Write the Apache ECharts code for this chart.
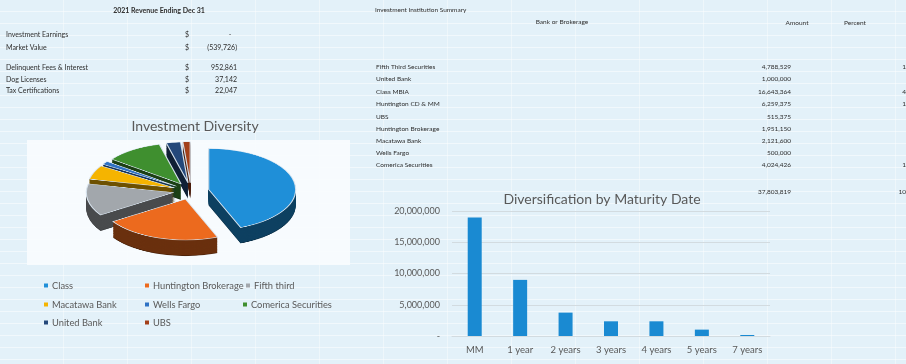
<!DOCTYPE html>
<html><head><meta charset="utf-8">
<script src="https://cdn.jsdelivr.net/npm/echarts@6/dist/echarts.min.js"></script>
<style>
html,body{margin:0;padding:0;}
body{width:906px;height:364px;overflow:hidden;position:relative;
background-color:#e3f1f9;
background-image:repeating-linear-gradient(to bottom,transparent 0,transparent 11px,rgba(255,255,255,0.5) 11px,rgba(255,255,255,0.5) 12px),
repeating-linear-gradient(to right,transparent 0,transparent 63px,rgba(255,255,255,0.4) 63px,rgba(255,255,255,0.4) 64px);}
#main{position:absolute;left:0;top:0;width:906px;height:364px;}
#pie{position:absolute;left:61px;top:61px;width:260px;height:300px;transform:scaleY(0.47);transform-origin:130px 130px;}
</style></head><body>
<div id="main"></div><div id="pie"></div>
<script>
// ---- data ----
const revenueTitle = '2021 Revenue Ending Dec 31';
const revenueLabels = ['Investment Earnings', 'Market Value', 'Delinquent Fees & Interest', 'Dog Licenses', 'Tax Certifications'];
const revenueValues = [null, -539726, 952861, 37142, 22047];

const institutionTitle = 'Investment Institution Summary';
const institutionHeaders = ['Bank or Brokerage', 'Amount', 'Percent'];
const institutionNames = ['Fifth Third Securities', 'United Bank', 'Class MBIA', 'Huntington CD & MM', 'UBS', 'Huntington Brokerage', 'Macatawa Bank', 'Wells Fargo', 'Comerica Securities'];
const institutionAmounts = [4788529, 1000000, 16643364, 6259375, 515375, 1951150, 2121600, 500000, 4024426];
const institutionTotal = 37803819;

const pieTitle = 'Investment Diversity';
const pieNames = ['Class', 'Huntington Brokerage', 'Fifth third', 'Macatawa Bank', 'Wells Fargo', 'Comerica Securities', 'United Bank', 'UBS'];
const pieValues = [16643364, 8210525, 4788529, 2121600, 500000, 4024426, 1000000, 515375];
const pieColors = ['#1f8fd8', '#ec6a1e', '#a2a7ac', '#f5b400', '#2f72c4', '#3f8f2f', '#24487a', '#a3401a'];

const barTitle = 'Diversification by Maturity Date';
const maturityCategories = ['MM', '1 year', '2 years', '3 years', '4 years', '5 years', '7 years'];
const maturityValues = [18950000, 8980000, 3740000, 2350000, 2350000, 1020000, 160000];
const yTicks = [0, 5000000, 10000000, 15000000, 20000000];

// ---- helpers ----
const FONT = 'Lato, "Open Sans", sans-serif';
const fmt = v => v.toLocaleString('en-US');
function txt(x, y, text, opts) {
  opts = opts || {};
  return { type: 'text', x: x, y: y, silent: true, z: 5,
    style: { text: text, fill: opts.fill || '#2e2e2e', font: (opts.weight || 'normal') + ' ' + (opts.size || 7) + 'px ' + FONT,
      align: opts.align || 'left', verticalAlign: 'middle', textAlign: opts.align || 'left', textVerticalAlign: 'middle' } };
}
function shade(hex, f) {
  const n = parseInt(hex.slice(1), 16);
  const r = Math.round(((n >> 16) & 255) * f), g = Math.round(((n >> 8) & 255) * f), b = Math.round((n & 255) * f);
  return 'rgb(' + r + ',' + g + ',' + b + ')';
}

// ---- graphic texts (tables) ----
const graphic = [];
graphic.push({ type: 'rect', shape: { x: 27, y: 140, width: 323, height: 125 }, style: { fill: 'rgba(248,252,254,0.9)' }, silent: true, z: 1 });
graphic.push(txt(159, 11, revenueTitle, { weight: 'bold', align: 'center', size: 7 }));
const revY = [35, 48, 68, 80, 91];
revenueLabels.forEach((l, i) => {
  graphic.push(txt(6, revY[i], l));
  graphic.push(txt(185, revY[i], '$'));
  const v = revenueValues[i];
  if (v === null) graphic.push(txt(230, revY[i], '-', { align: 'center' }));
  else graphic.push(txt(237, revY[i], v < 0 ? '(' + fmt(-v) + ')' : fmt(v), { align: 'right' }));
});
graphic.push(txt(375, 10, institutionTitle, { size: 6.5 }));
graphic.push(txt(562, 22, institutionHeaders[0], { size: 6.5, align: 'center' }));
graphic.push(txt(797, 23, institutionHeaders[1], { size: 6.5, align: 'center' }));
graphic.push(txt(855, 23, institutionHeaders[2], { size: 6.5, align: 'center' }));
const instY = [67, 79, 91.5, 104, 117, 128.5, 140.5, 152.5, 164.5];
institutionNames.forEach((n, i) => {
  graphic.push(txt(376, instY[i], n, { size: 6.5 }));
  graphic.push(txt(791, instY[i], fmt(institutionAmounts[i]), { size: 6.5, align: 'right' }));
  graphic.push(txt(924, instY[i], (institutionAmounts[i] / institutionTotal * 100).toFixed(2) + '%', { size: 6.5, align: 'right' }));
});
graphic.push(txt(791, 192, fmt(institutionTotal), { size: 6.5, align: 'right' }));
graphic.push(txt(924, 192, '100.00%', { size: 6.5, align: 'right' }));

// ---- legends for pie ----
const legendPos = [[44, 281], [145, 281], [246, 281], [44, 300], [145, 300], [243, 300], [44, 318], [145, 318]];
const legends = pieNames.map((n, i) => ({
  data: [n], left: legendPos[i][0], top: legendPos[i][1], icon: 'rect', itemWidth: 4, itemHeight: 4, itemGap: 0,
  padding: 0, selectedMode: false, textStyle: { fontSize: 9.3, color: '#595959', fontFamily: FONT, padding: [0, 0, 0, -1] }
}));

const main = echarts.init(document.getElementById('main'), null, { renderer: 'canvas' });
main.setOption({
  animation: false,
  backgroundColor: 'transparent',
  color: pieColors,
  title: [
    { text: pieTitle, left: 190, top: 114, textAlign: 'center', textStyle: { fontSize: 14, fontWeight: 'normal', color: '#595959', fontFamily: FONT } },
    { text: barTitle, left: 597, top: 187, textAlign: 'center', textStyle: { fontSize: 14, fontWeight: 'normal', color: '#595959', fontFamily: FONT } }
  ],
  legend: legends,
  graphic: graphic,
  grid: { left: 452, right: 136, top: 211, bottom: 28 },
  xAxis: { type: 'category', data: maturityCategories,
    axisLine: { lineStyle: { color: '#d2dbe0' } }, axisTick: { show: false },
    axisLabel: { fontSize: 9.5, color: '#595959', fontFamily: FONT, margin: 9 } },
  yAxis: { type: 'value', min: yTicks[0], max: yTicks[yTicks.length - 1], interval: yTicks[1] - yTicks[0],
    axisLine: { show: false }, axisTick: { show: false },
    splitLine: { lineStyle: { color: '#d2dbe0' } },
    axisLabel: { fontSize: 9, color: '#595959', fontFamily: FONT, margin: 12, formatter: v => v === 0 ? '-' : fmt(v) } },
  series: [
    { type: 'bar', data: maturityValues, barWidth: 14, itemStyle: { color: '#1a8ad2' }, silent: true },
    { type: 'pie', center: [-200, -200], radius: 1, silent: true, label: { show: false }, labelLine: { show: false },
      data: pieNames.map((n, i) => ({ name: n, value: pieValues[i] })) }
  ]
});

// ---- 3D-looking exploded pie ----
const pie = echarts.init(document.getElementById('pie'), null, { renderer: 'canvas' });
const depth = 34, layers = 24;
const pieSeries = [];
for (let k = layers; k >= 0; k--) {
  const top = k === 0;
  pieSeries.push({
    type: 'pie', radius: 87, center: [130, 130 + depth * k / layers],
    startAngle: 90, clockwise: true, selectedMode: 'multiple', selectedOffset: 18,
    animation: false, silent: true, label: { show: false }, labelLine: { show: false },
    emphasis: { disabled: true },
    itemStyle: top ? { borderColor: 'rgba(220,232,242,0.95)', borderWidth: 1.2 } : { borderWidth: 0 },
    data: pieNames.map((n, i) => ({ name: n, value: pieValues[i], selected: true,
      itemStyle: { color: top ? pieColors[i] : shade(pieColors[i], k === layers ? 0.3 : 0.45) } }))
  });
}
pie.setOption({ animation: false, backgroundColor: 'transparent', series: pieSeries });
</script>
</body></html>
